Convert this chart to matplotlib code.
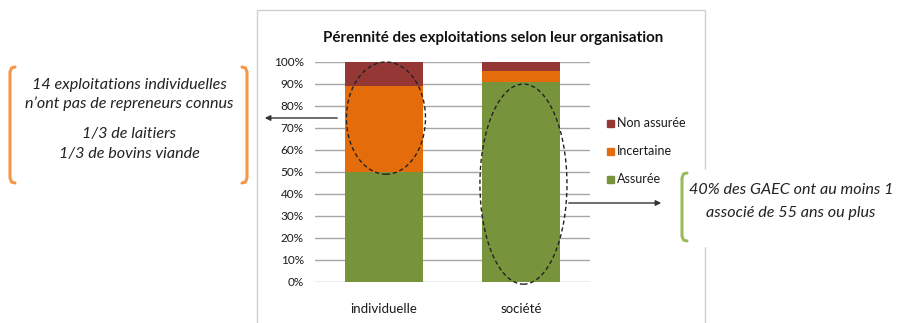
import matplotlib
matplotlib.use("Agg")
import matplotlib.pyplot as plt
from matplotlib.patches import Ellipse, Rectangle, FancyArrowPatch
from matplotlib.lines import Line2D

plt.rcParams['font.family'] = ['Lato', 'DejaVu Sans']

# Data
categories = ["individuelle", "société"]
series_names = ["Assurée", "Incertaine", "Non assurée"]
assuree = [50, 91]
incertaine = [39, 5]
non_assuree = [11, 4]
colors = ["#77933C", "#E46C0A", "#953735"]
yticks = [0, 10, 20, 30, 40, 50, 60, 70, 80, 90, 100]
title = "Pérennité des exploitations selon leur organisation"
left_note = ["14 exploitations individuelles", "n\u2019ont pas de repreneurs connus",
             "1/3 de laitiers", "1/3 de bovins viande"]
right_note = ["40% des GAEC ont au moins 1", "associé de 55 ans ou plus"]

W, H = 900, 323
fig = plt.figure(figsize=(W / 100, H / 100), dpi=100)


def fx(x):
    return x / W


def fy(y):
    return 1 - y / H


# Chart frame
fig.add_artist(Rectangle((fx(257), fy(330)), fx(705) - fx(257), fy(10) - fy(330),
                         transform=fig.transFigure, fill=False,
                         edgecolor="#D0D0D0", lw=1.0, zorder=0))

ax = fig.add_axes([fx(315), fy(282), fx(590) - fx(315), fy(62) - fy(282)])
ax.set_xlim(-0.5, 1.5)
ax.set_ylim(0, 100)

x = list(range(len(categories)))
bw = 0.565
bottom = [0] * len(x)
for vals, name, col in zip([assuree, incertaine, non_assuree], series_names, colors):
    ax.bar(x, vals, width=bw, bottom=bottom, color=col, label=name, zorder=2)
    bottom = [b0 + v for b0, v in zip(bottom, vals)]

ax.set_yticks(yticks)
ax.set_yticklabels([f"{t}%" for t in yticks], fontsize=8.5, color="#1a1a1a")
ax.set_xticks(x)
ax.set_xticklabels(categories, fontsize=9.5, color="#1a1a1a")
ax.tick_params(axis="both", length=0)
ax.tick_params(axis="y", pad=8)
ax.tick_params(axis="x", pad=15)
ax.yaxis.grid(True, color="#A6A6A6", lw=1.0, zorder=1)
ax.set_axisbelow(True)
for s in ax.spines.values():
    s.set_visible(False)

# Dashed ellipses highlighting the segments
ax.add_patch(Ellipse((0.016, 74.5), 0.575, 51, fill=False, ls=(0, (3, 2)),
                     lw=1.0, edgecolor="#222222", zorder=3, clip_on=False))
ax.add_patch(Ellipse((1.016, 44.5), 0.633, 91, fill=False, ls=(0, (3, 2)),
                     lw=1.0, edgecolor="#222222", zorder=3, clip_on=False))

fig.text(fx(493), fy(38), title, ha="center", va="center",
         fontsize=10.9, fontweight="bold", color="#111111")

# Legend (top entry = Non assurée)
for name, col, yy in zip(series_names[::-1], colors[::-1], [123, 151, 179]):
    fig.add_artist(Rectangle((fx(607), fy(yy + 3.5)), fx(7), fx(7) * W / H,
                             transform=fig.transFigure, color=col))
    fig.text(fx(617), fy(yy), name, ha="left", va="center",
             fontsize=9, color="#1a1a1a")

# Arrows
fig.add_artist(FancyArrowPatch(
    (fx(340), fy(118)), (fx(262), fy(118)), transform=fig.transFigure,
    arrowstyle="-|>", mutation_scale=8, color="#333333", lw=1.0))
fig.add_artist(FancyArrowPatch(
    (fx(566), fy(203)), (fx(664), fy(203)), transform=fig.transFigure,
    arrowstyle="-|>", mutation_scale=8, color="#333333", lw=1.0))


def bracket(xc, y0, y1, direction, color):
    # vertical stroke with short curled ends
    d = 5 * direction
    xs = [xc + d, xc + d * 0.3, xc, xc, xc + d * 0.3, xc + d]
    ys = [y0 - 1, y0, y0 + 4, y1 - 4, y1, y1 + 1]
    fig.add_artist(Line2D([fx(v) for v in xs], [fy(v) for v in ys],
                          transform=fig.transFigure, color=color, lw=2.2,
                          solid_capstyle="round", solid_joinstyle="round"))


# Left callout
bracket(10, 68, 182, 1, "#F79646")
bracket(247, 68, 182, -1, "#F79646")
for txt, yy in zip(left_note, [85, 104, 134, 154]):
    fig.text(fx(129), fy(yy), txt, ha="center", va="center",
             fontsize=11.6, style="italic", color="#222222")

# Right callout (white box over frame)
fig.add_artist(Rectangle((fx(672), fy(246)), fx(900) - fx(672), fy(170) - fy(246),
                         transform=fig.transFigure, color="white", zorder=1))
bracket(682, 174, 240, 1, "#9BBB59")
for txt, yy in zip(right_note, [190, 213]):
    fig.text(fx(791), fy(yy), txt, ha="center", va="center",
             fontsize=11.6, style="italic", color="#222222", zorder=2)

fig.savefig("out.png", dpi=100)
